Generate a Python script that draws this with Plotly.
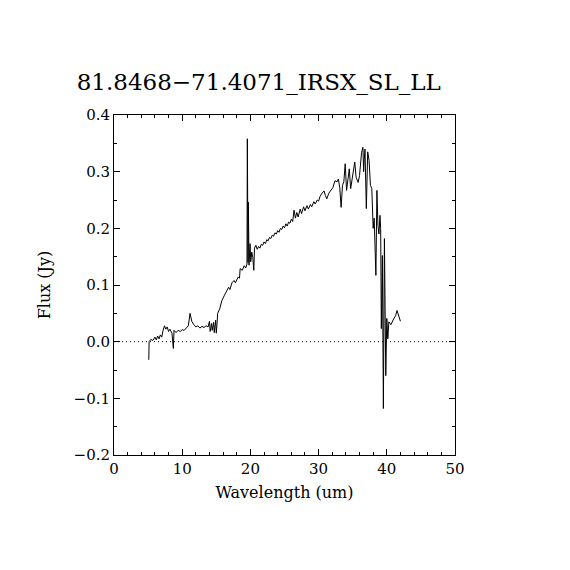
import plotly.graph_objects as go

# Spectrum (wavelength in um, flux in Jy)
wavelength = [
    5.1, 5.15, 5.4, 5.7, 6.0, 6.2, 6.4, 6.6, 6.8, 7.0, 7.2, 7.4, 7.6, 7.8, 8.0, 8.2,
    8.5, 8.7, 8.8, 9.1, 9.4, 9.7, 10.0, 10.3, 10.6, 10.9, 11.15, 11.4, 11.7, 12.0,
    12.3, 12.6, 12.9, 13.2, 13.5, 13.8, 14.0, 14.1, 14.3, 14.4, 14.6, 14.7, 14.9,
    15.0, 15.1, 15.2, 15.5, 15.8, 16.2, 16.6, 16.8, 17.0, 17.3, 17.6, 17.8, 18.2,
    18.4, 18.5, 18.8, 19.1, 19.3, 19.5, 19.55, 19.65, 19.7, 19.8, 19.95, 20.05,
    20.2, 20.35, 20.5, 20.6, 20.8, 21.0, 21.2, 21.4, 21.6, 21.8, 22.0, 22.2, 22.4,
    22.6, 22.8, 23.0, 23.2, 23.4, 23.6, 23.8, 24.0, 24.2, 24.4, 24.6, 24.8, 25.0,
    25.2, 25.4, 25.6, 25.8, 26.0, 26.2, 26.4, 26.6, 26.8, 27.0, 27.3, 27.5, 27.8,
    28.0, 28.3, 28.5, 28.8, 29.0, 29.3, 29.5, 29.8, 30.0, 30.2, 30.5, 30.8, 31.0,
    31.2, 31.5, 31.8, 32.1, 32.4, 32.7, 32.9, 33.1, 33.3, 33.5, 33.7, 33.9, 34.1,
    34.3, 34.5, 34.7, 34.9, 35.1, 35.3, 35.5, 35.8, 36.0, 36.3, 36.5, 36.6, 36.7,
    36.8, 37.0, 37.2, 37.4, 37.6, 37.8, 38.0, 38.15, 38.3, 38.4, 38.55, 38.7, 38.85,
    39.0, 39.1, 39.2, 39.35, 39.5, 39.65, 39.85, 40.0, 40.15, 40.3, 40.6, 41.0,
    41.3, 41.5, 41.8, 42.0,
]
flux = [
    -0.032, 0.0, 0.004, 0.002, 0.008, 0.003, 0.010, 0.005, 0.012, 0.008, 0.020, 0.028,
    0.022, 0.026, 0.018, 0.022, 0.015, -0.012, 0.020, 0.016, 0.020, 0.018, 0.021, 0.020,
    0.024, 0.028, 0.050, 0.036, 0.030, 0.026, 0.028, 0.024, 0.027, 0.025, 0.028, 0.026,
    0.036, 0.018, 0.032, 0.020, 0.034, 0.016, 0.038, 0.015, 0.030, 0.050, 0.058, 0.072,
    0.082, 0.092, 0.096, 0.092, 0.104, 0.108, 0.104, 0.114, 0.112, 0.129, 0.126, 0.134,
    0.130, 0.137, 0.358, 0.140, 0.246, 0.135, 0.173, 0.141, 0.158, 0.149, 0.126, 0.165,
    0.170, 0.163, 0.168, 0.165, 0.172, 0.170, 0.176, 0.173, 0.180, 0.178, 0.184, 0.182,
    0.188, 0.186, 0.192, 0.190, 0.196, 0.193, 0.200, 0.198, 0.204, 0.201, 0.208, 0.204,
    0.211, 0.209, 0.216, 0.212, 0.232, 0.218, 0.228, 0.220, 0.234, 0.226, 0.238, 0.231,
    0.240, 0.234, 0.242, 0.238, 0.247, 0.243, 0.250, 0.248, 0.256, 0.262, 0.266, 0.258,
    0.252, 0.262, 0.267, 0.272, 0.284, 0.282, 0.287, 0.272, 0.237, 0.276, 0.282, 0.314,
    0.267, 0.290, 0.305, 0.270, 0.285, 0.300, 0.317, 0.290, 0.281, 0.293, 0.334, 0.343,
    0.300, 0.322, 0.340, 0.235, 0.335, 0.320, 0.276, 0.270, 0.200, 0.218, 0.170, 0.117,
    0.267, 0.205, 0.190, 0.223, 0.200, 0.023, 0.152, -0.118, 0.182, -0.060, 0.041,
    0.005, 0.035, 0.030, 0.040, 0.046, 0.055, 0.045, 0.036,
]

title_text = "81.8468\u221271.4071_IRSX_SL_LL"
font_family = "DejaVu Serif"

fig = go.Figure()

fig.add_trace(
    go.Scatter(
        x=wavelength, y=flux,
        mode='lines',
        line=dict(color='black', width=1),
        showlegend=False,
    )
)

# Dotted zero line
fig.add_hline(y=0, line_dash='1px,3px', line_width=1, line_color='black')

axis_common = dict(
    showline=True, linecolor='black', linewidth=1,
    mirror='allticks', ticks='inside', ticklen=6, tickcolor='black',
    showgrid=False, zeroline=False,
    tickfont=dict(size=15, color='black', family=font_family),
)

fig.update_layout(
    title=dict(
        text=title_text,
        x=0.44, xref='container', xanchor='center',
        y=0.870, yref='container', yanchor='middle',
        font=dict(size=23, color='black', family=font_family),
    ),
    xaxis=dict(
        title=dict(text='Wavelength (um)', standoff=9,
                   font=dict(size=16, color='black', family=font_family)),
        range=[0, 50], dtick=10, tick0=0,
        minor=dict(ticks='inside', ticklen=3, dtick=2, tickcolor='black'),
        **axis_common,
    ),
    yaxis=dict(
        title=dict(text='Flux (Jy)', standoff=18,
                   font=dict(size=16, color='black', family=font_family)),
        range=[-0.2, 0.4], dtick=0.1, tick0=0, tickformat='.1f',
        minor=dict(ticks='inside', ticklen=3, dtick=0.05, tickcolor='black'),
        **axis_common,
    ),
    font=dict(family=font_family, color='black'),
    paper_bgcolor='white',
    plot_bgcolor='white',
    width=570,
    height=570,
    margin=dict(l=106, r=123, t=107, b=123, pad=0),
)

fig.write_html("out.html")
